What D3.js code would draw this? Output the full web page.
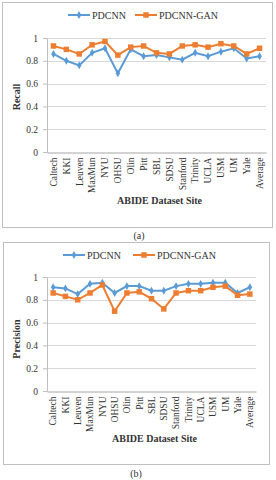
<!DOCTYPE html>
<meta charset="utf-8">
<script src="https://d3js.org/d3.v7.min.js"></script>
<style>
  body { margin: 0; background: #fff; }
  text { font-family: "Liberation Serif", "Times New Roman", serif; }
</style>
<div id="chart"></div>
<script>
// ABIDE sites
var sites = ["Caltech", "KKI", "Leuven", "MaxMun", "NYU", "OHSU", "Olin", "Pitt", "SBL",
             "SDSU", "Stanford", "Trinity", "UCLA", "USM", "UM", "Yale", "Average"];
var yTicks = [0, 0.2, 0.4, 0.6, 0.8, 1];

// (a) recall
var recallPDCNN = [0.86, 0.80, 0.76, 0.87, 0.91, 0.69, 0.90, 0.84, 0.85, 0.83, 0.81, 0.87, 0.84, 0.88, 0.91, 0.82, 0.84];
var recallGAN   = [0.93, 0.90, 0.86, 0.94, 0.97, 0.85, 0.92, 0.93, 0.87, 0.86, 0.93, 0.94, 0.92, 0.95, 0.93, 0.86, 0.91];

// (b) precision
var precPDCNN = [0.91, 0.90, 0.85, 0.94, 0.95, 0.86, 0.92, 0.92, 0.88, 0.88, 0.92, 0.94, 0.94, 0.95, 0.95, 0.86, 0.91];
var precGAN   = [0.86, 0.83, 0.80, 0.86, 0.93, 0.70, 0.86, 0.87, 0.81, 0.72, 0.86, 0.88, 0.88, 0.91, 0.92, 0.84, 0.85];

var blue = "#5b9bd5", orange = "#ed7d31";

var svg = d3.select("#chart").append("svg")
    .attr("width", 276)
    .attr("height", 480);

function drawPanel(opt) {
  var g = svg.append("g").attr("transform", "translate(" + opt.box[0] + "," + opt.box[1] + ")");
  var bw = opt.box[2], bh = opt.box[3];

  // frame
  g.append("rect")
    .attr("x", 0.5).attr("y", 0.5)
    .attr("width", bw).attr("height", bh)
    .attr("fill", "none").attr("stroke", "#bfbfbf").attr("stroke-width", 1);

  var x = d3.scaleBand().domain(sites).range([opt.plot[0], opt.plot[1]]);
  var y = d3.scaleLinear().domain([0, 1]).range([opt.plot[3], opt.plot[2]]);

  // gridlines
  g.selectAll(".grid").data(yTicks.slice(1)).enter().append("line")
    .attr("x1", opt.plot[0]).attr("x2", opt.plot[1])
    .attr("y1", function(d) { return Math.round(y(d)) + 0.5; })
    .attr("y2", function(d) { return Math.round(y(d)) + 0.5; })
    .attr("stroke", "#d9d9d9").attr("stroke-width", 1);

  // y axis
  var ya = g.append("g")
    .attr("transform", "translate(" + opt.plot[0] + ",0)")
    .call(d3.axisLeft(y).tickValues(yTicks).tickFormat(d3.format("")).tickSize(4).tickPadding(5));
  ya.select(".domain").attr("stroke", "#bfbfbf");
  ya.selectAll(".tick line").attr("stroke", "#bfbfbf");
  ya.selectAll("text").attr("font-size", 9.5).attr("fill", "#333")
    .style("font-family", "'Liberation Serif', serif");

  // x axis
  var xa = g.append("g")
    .attr("transform", "translate(0," + (Math.round(opt.plot[3]) + 0.5) + ")")
    .call(d3.axisBottom(x).tickSize(0).tickPadding(0));
  xa.select(".domain").attr("stroke", "#a6a6a6");
  xa.selectAll("text")
    .attr("font-size", 9.5).attr("fill", "#333")
    .style("font-family", "'Liberation Serif', serif")
    .attr("text-anchor", "end")
    .attr("dy", "0.35em")
    .attr("transform", "translate(0,5) rotate(-90)")
    .attr("x", 0).attr("y", 0);

  // axis titles
  g.append("text")
    .attr("x", (opt.plot[0] + opt.plot[1]) / 2 + 3)
    .attr("y", opt.xTitleY)
    .attr("text-anchor", "middle")
    .attr("font-size", 10).attr("font-weight", "bold").attr("fill", "#333")
    .text("ABIDE Dataset Site");

  g.append("text")
    .attr("transform", "translate(" + opt.yTitleX + "," + opt.yTitleY + ") rotate(-90)")
    .attr("text-anchor", "middle")
    .attr("font-size", 10).attr("font-weight", "bold").attr("fill", "#333")
    .text(opt.yLabel);

  var line = d3.line()
    .x(function(d, i) { return x(sites[i]) + x.bandwidth() / 2; })
    .y(function(d) { return y(d); });

  var series = [
    {name: "PDCNN", values: opt.a, color: blue, shape: d3.symbolDiamond, size: 18},
    {name: "PDCNN-GAN", values: opt.b, color: orange, shape: d3.symbolSquare, size: 30}
  ];

  series.forEach(function(s) {
    g.append("path")
      .datum(s.values)
      .attr("d", line)
      .attr("fill", "none").attr("stroke", s.color).attr("stroke-width", 2);
    g.selectAll(null).data(s.values).enter().append("path")
      .attr("d", d3.symbol().type(s.shape).size(s.size))
      .attr("transform", function(d, i) {
        return "translate(" + (x(sites[i]) + x.bandwidth() / 2) + "," + y(d) + ")";
      })
      .attr("fill", s.color);
  });

  // legend
  var lg = g.append("g").attr("transform", "translate(0," + opt.legendY + ")");
  series.forEach(function(it, k) {
    var lx = opt.legendX[k];
    lg.append("line")
      .attr("x1", lx).attr("x2", lx + 22)
      .attr("y1", 0).attr("y2", 0)
      .attr("stroke", it.color).attr("stroke-width", 2);
    lg.append("path")
      .attr("d", d3.symbol().type(it.shape).size(it.size))
      .attr("transform", "translate(" + (lx + 11) + ",0)")
      .attr("fill", it.color);
    lg.append("text")
      .attr("x", lx + 24).attr("y", 0).attr("dy", "0.35em")
      .attr("font-size", 10).attr("fill", "#333")
      .text(it.name);
  });

  // caption
  svg.append("text")
    .attr("x", opt.captionX).attr("y", opt.captionY)
    .attr("text-anchor", "middle")
    .attr("font-size", 10).attr("fill", "#333")
    .text(opt.caption);
}

drawPanel({
  box: [2, 2, 270, 225],
  plot: [45, 264, 36, 150],
  a: recallPDCNN, b: recallGAN,
  yLabel: "Recall", yTitleX: 18, yTitleY: 95,
  xTitleY: 202,
  legendY: 13, legendX: [66, 133],
  caption: "(a)", captionX: 139, captionY: 239
});

drawPanel({
  box: [3, 242, 266, 222],
  plot: [44, 253, 35, 149],
  a: precPDCNN, b: precGAN,
  yLabel: "Precision", yTitleX: 17, yTitleY: 97,
  xTitleY: 200,
  legendY: 13, legendX: [60, 130],
  caption: "(b)", captionX: 136, captionY: 477
});
</script>
